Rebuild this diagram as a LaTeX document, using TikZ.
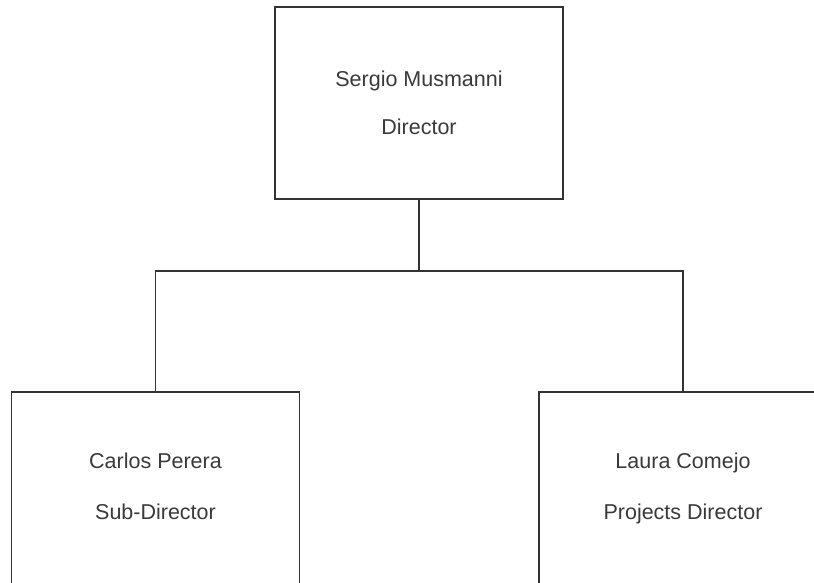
\documentclass[tikz,border=0pt]{standalone}
\usepackage{fontspec}
\setmainfont{Liberation Sans}
\definecolor{linegray}{HTML}{333333}
\definecolor{textgray}{HTML}{3A3A3A}
\newcommand\bxstrut{\rule[-4pt]{0pt}{16pt}}
\newcommand\topstrut{\rule[0pt]{0pt}{16pt}}
\begin{document}
\begin{tikzpicture}[x=1pt,y=-1pt,
  box/.style={draw=linegray, line width=1.8pt, minimum width=288pt, minimum height=192pt, inner sep=0pt, align=center, text=textgray},
  conn/.style={draw=linegray, line width=1.8pt}]
\useasboundingbox (0,0) rectangle (814,582);
\clip (0,0) rectangle (814,582);
\fill[white] (0,0) rectangle (814,582);
\node[box, font=\fontsize{21.5}{48}\selectfont] (top) at (419,103) {\topstrut Sergio Musmanni\\Director\topstrut};
\node[box, font=\fontsize{21.5}{51}\selectfont] (sub) at (155.5,488) {\bxstrut Carlos Perera\\Sub-Director\bxstrut};
\node[box, font=\fontsize{21.5}{51}\selectfont] (proj) at (683,488) {\bxstrut Laura Comejo\\Projects Director\bxstrut};
\coordinate (bus) at (419,271);
\draw[conn] (top.south) -- (bus);
\draw[conn] (sub.north) |- (bus) -| (proj.north);
\end{tikzpicture}
\end{document}
